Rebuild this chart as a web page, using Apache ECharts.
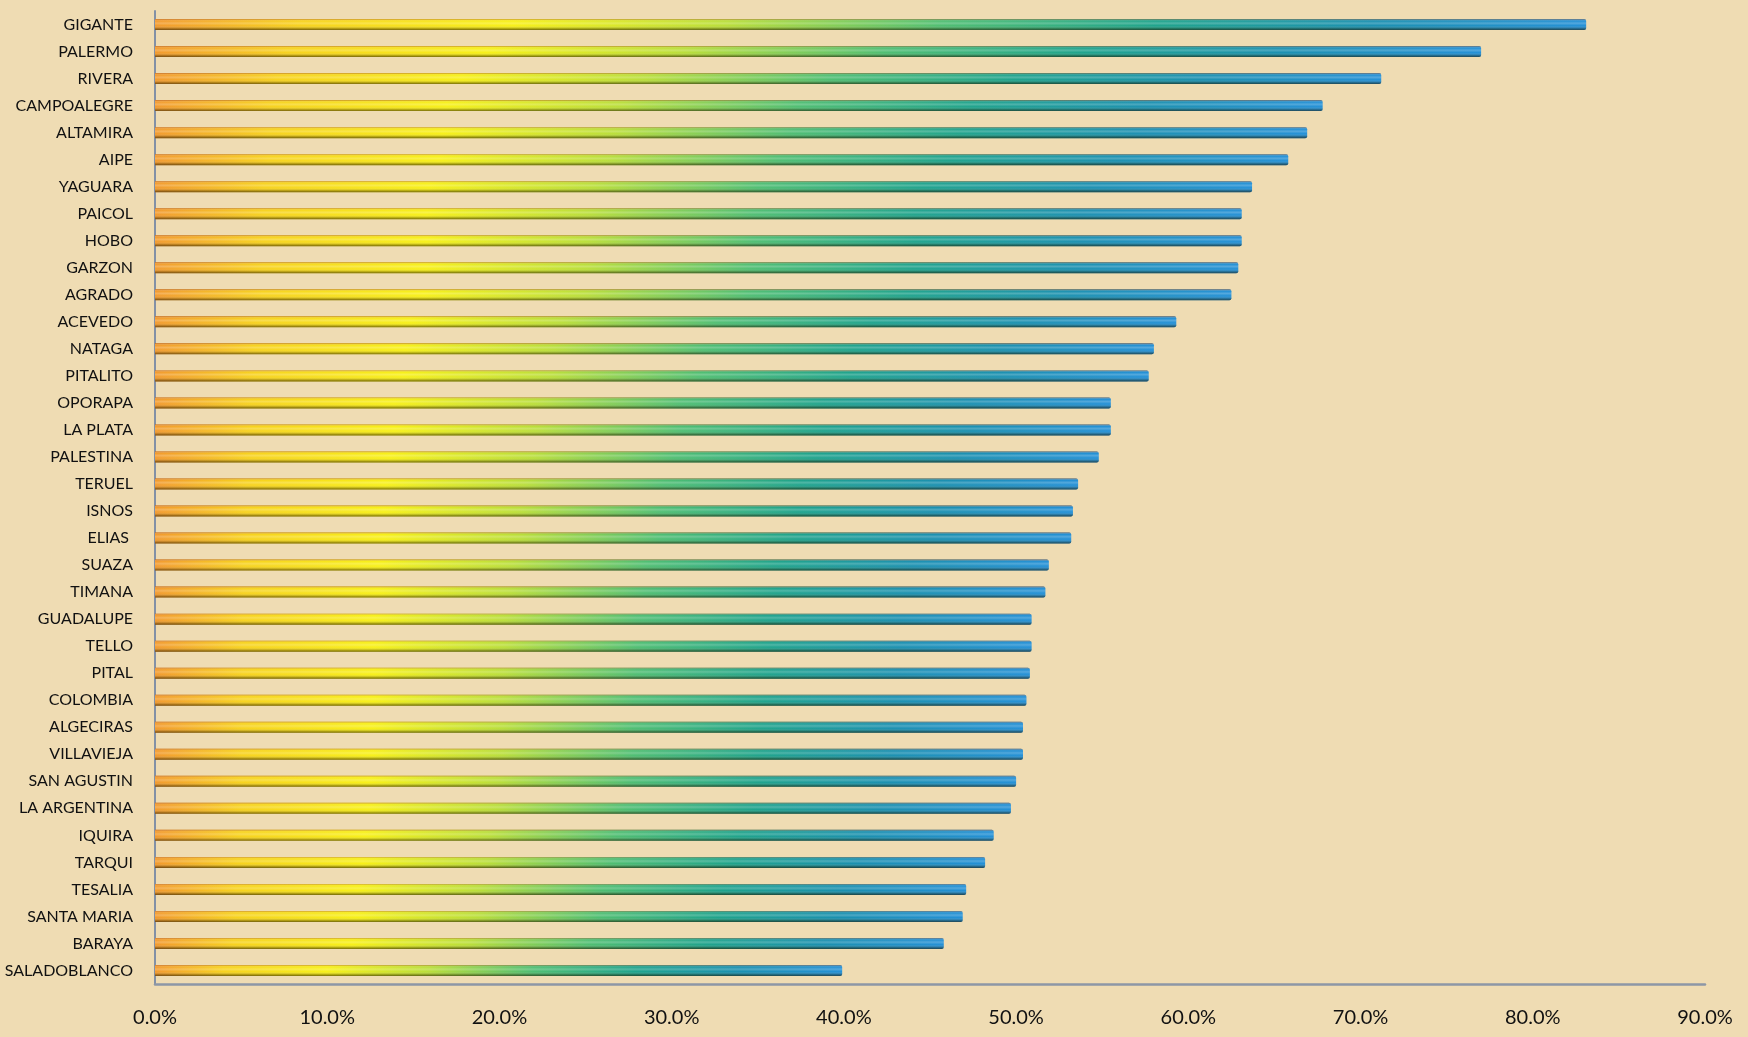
<!DOCTYPE html>
<html>
<head>
<meta charset="utf-8">
<script src="https://cdn.jsdelivr.net/npm/echarts@6/dist/echarts.min.js"></script>
<style>
html,body{margin:0;padding:0;background:#EFDCB3;}
#chart{width:1748px;height:1037px;}
</style>
</head>
<body>
<div id="chart"></div>
<script>
const municipios = [
  'GIGANTE','PALERMO','RIVERA','CAMPOALEGRE','ALTAMIRA','AIPE','YAGUARA','PAICOL','HOBO','GARZON',
  'AGRADO','ACEVEDO','NATAGA','PITALITO','OPORAPA','LA PLATA','PALESTINA','TERUEL','ISNOS','ELIAS ',
  'SUAZA','TIMANA','GUADALUPE','TELLO','PITAL','COLOMBIA','ALGECIRAS','VILLAVIEJA','SAN AGUSTIN','LA ARGENTINA',
  'IQUIRA','TARQUI','TESALIA','SANTA MARIA','BARAYA','SALADOBLANCO'
];
const porcentajes = [
  83.1, 77.0, 71.2, 67.8, 66.9, 65.8, 63.7, 63.1, 63.1, 62.9,
  62.5, 59.3, 58.0, 57.7, 55.5, 55.5, 54.8, 53.6, 53.3, 53.2,
  51.9, 51.7, 50.9, 50.9, 50.8, 50.6, 50.4, 50.4, 50.0, 49.7,
  48.7, 48.2, 47.1, 46.9, 45.8, 39.9
];
const xTicks = { min: 0, max: 90, interval: 10 };

const chart = echarts.init(document.getElementById('chart'), null, { renderer: 'canvas' });

const mainGradient = new echarts.graphic.LinearGradient(0, 0, 1, 0, [
  { offset: 0.00, color: '#F29A2E' },
  { offset: 0.10, color: '#F7D21E' },
  { offset: 0.25, color: '#F7F018' },
  { offset: 0.40, color: '#B9DE3A' },
  { offset: 0.55, color: '#4FBE72' },
  { offset: 0.70, color: '#1FA38C' },
  { offset: 0.85, color: '#1B90B0' },
  { offset: 1.00, color: '#2490D6' }
]);
const shadeGradient = new echarts.graphic.LinearGradient(0, 0, 0, 1, [
  { offset: 0.00, color: 'rgba(150,60,10,0.55)' },
  { offset: 0.18, color: 'rgba(255,255,255,0.00)' },
  { offset: 0.38, color: 'rgba(255,255,255,0.22)' },
  { offset: 0.60, color: 'rgba(255,255,255,0.00)' },
  { offset: 0.85, color: 'rgba(40,30,0,0.30)' },
  { offset: 1.00, color: 'rgba(30,20,0,0.60)' }
]);

chart.setOption({
  backgroundColor: '#EFDCB3',
  animation: false,
  grid: { left: 155, right: 43, top: 11, bottom: 53, containLabel: false },
  xAxis: {
    type: 'value',
    min: xTicks.min, max: xTicks.max, interval: xTicks.interval,
    axisLine: { show: true, lineStyle: { color: '#8D97A6', width: 2.5 } },
    axisTick: { show: false },
    splitLine: { show: false },
    axisLabel: {
      margin: 24,
      color: '#111',
      fontFamily: 'Lato, "Liberation Sans", sans-serif',
      fontSize: 20,
      formatter: v => v.toFixed(1) + '%'
    }
  },
  yAxis: {
    type: 'category',
    data: municipios,
    inverse: true,
    axisLine: { show: true, lineStyle: { color: '#8391A6', width: 2 } },
    axisTick: { show: false },
    splitLine: { show: false },
    axisLabel: {
      margin: 22,
      color: '#111',
      fontFamily: 'Lato, "Liberation Sans", sans-serif',
      fontSize: 16
    }
  },
  series: [
    {
      type: 'bar',
      data: porcentajes,
      barWidth: 11,
      itemStyle: { color: mainGradient, borderRadius: [0, 2, 2, 0] }
    },
    {
      type: 'bar',
      data: porcentajes,
      barWidth: 11,
      barGap: '-100%',
      silent: true,
      itemStyle: { color: shadeGradient, borderRadius: [0, 2, 2, 0] }
    }
  ]
});
</script>
</body>
</html>
